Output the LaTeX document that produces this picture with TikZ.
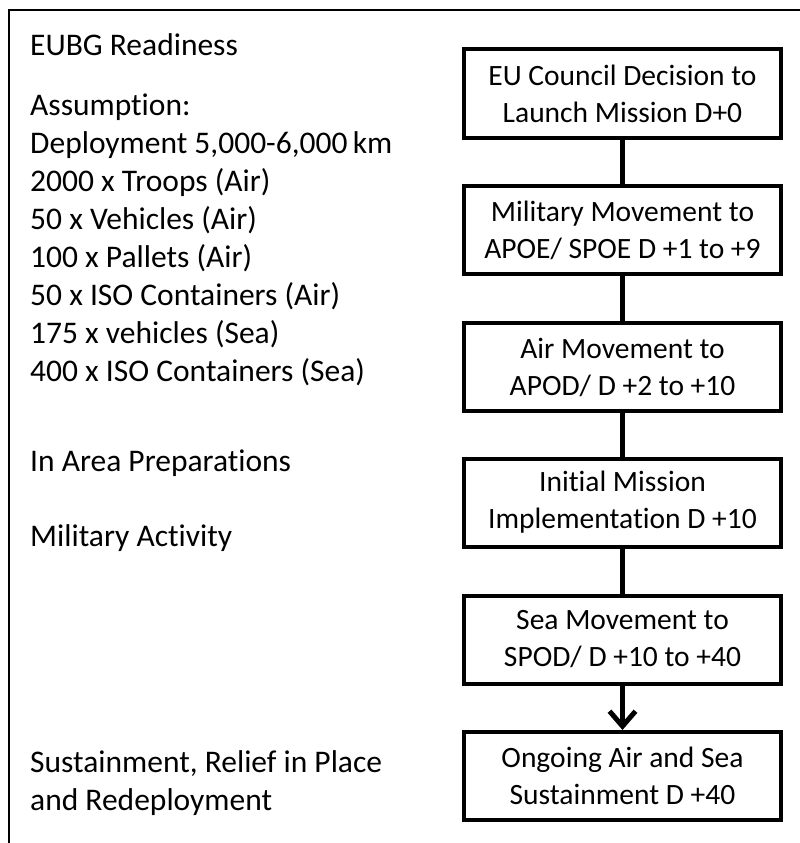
\documentclass[tikz,border=0pt]{standalone}
\usepackage{fontspec}
\setmainfont{Carlito}[RawFeature={-liga;-clig;-dlig;-calt}]
\usetikzlibrary{arrows.meta}

\tikzset{
  phase/.style={draw, line width=4pt, minimum width=317pt, minimum height=88pt, inner sep=0pt, align=center, font=\fontsize{29.5}{37}\selectfont},
  note/.style={anchor=west, inner sep=0pt, align=left, font=\fontsize{31.5}{38}\selectfont},
  link/.style={line width=5pt}
}

\begin{document}
\begin{tikzpicture}[x=1pt, y=-1pt]
  \useasboundingbox (0,0) rectangle (800,843);
  \draw[line width=2pt] (800,10) -- (9,10) -- (9,843); % frame

  % left column
  \node[note] (title) at (30,45) {EUBG Readiness};
  \node[note] (assume) at (30,240) {Assumption:\\Deployment 5,000-6,000\,km\\2000 x Troops (Air)\\50 x Vehicles (Air)\\100 x Pallets (Air)\\50 x ISO Containers (Air)\\175 x vehicles (Sea)\\400 x ISO Containers (Sea)};
  \node[note] (prep) at (30,463) {In Area Preparations};
  \node[note] (activity) at (30,538) {Military Activity};
  \node[note] (sustain) at (30,783) {Sustainment, Relief in Place\\and Redeployment};

  % right column
  \node[phase] (council) at (622.5,93.5) {EU Council Decision to\\Launch Mission D+0};
  \node[phase] (apoe) at (622.5,230) {Military Movement to\\APOE/ SPOE D +1 to +9};
  \node[phase] (apod) at (622.5,367) {Air Movement to\\APOD/ D +2 to +10};
  \node[phase] (initial) at (622.5,502.5) {Initial Mission\\Implementation D +10};
  \node[phase] (spod) at (622.5,639.5) {Sea Movement to\\SPOD/ D +10 to +40};
  \node[phase] (ongoing) at (622.5,776) {Ongoing Air and Sea\\Sustainment D +40};

  \draw[link] (council) -- (apoe);
  \draw[link] (apoe) -- (apod);
  \draw[link] (apod) -- (initial);
  \draw[link] (initial) -- (spod);
  \draw[link, -{Straight Barb[length=15pt, width=26pt]}] (spod) -- (ongoing);
\end{tikzpicture}
\end{document}
